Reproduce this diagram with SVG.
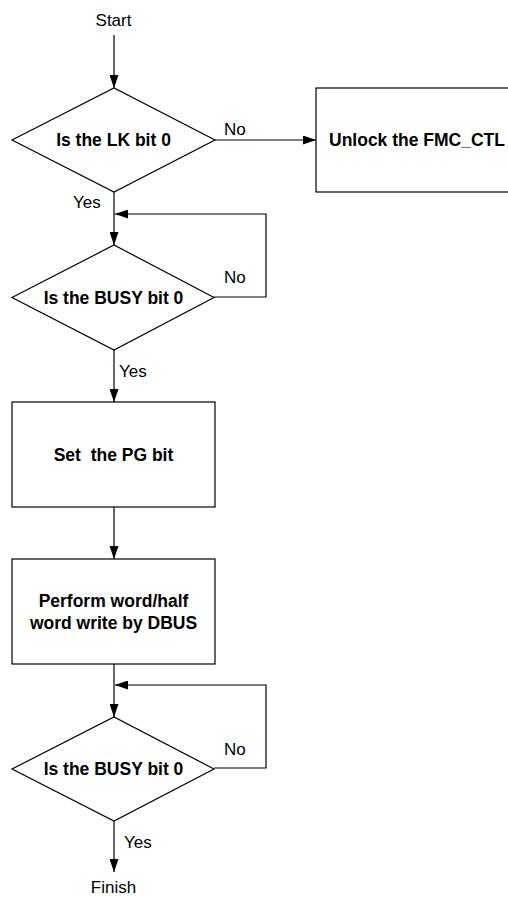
<svg xmlns="http://www.w3.org/2000/svg" width="508" height="897" viewBox="0 0 508 897">
<style>
.shape{fill:#fff;stroke:#000;stroke-width:1.2}
.line{fill:none;stroke:#000;stroke-width:1.2}
.lbl{font-family:"Liberation Sans",Arial,sans-serif;font-size:17.5px;font-weight:bold;fill:#000;text-anchor:middle;white-space:pre}
.txt{font-family:"Liberation Sans",Arial,sans-serif;font-size:17px;fill:#000}
</style>
<defs>
<marker id="arr" markerUnits="userSpaceOnUse" markerWidth="13" markerHeight="9" refX="13" refY="4.5" orient="auto">
<path d="M0,0 L13,4.5 L0,9 z" fill="#000"/>
</marker>
</defs>
<rect width="508" height="897" fill="#fff"/>
<g id="connectors">
<line class="line" x1="114" y1="35" x2="114" y2="88" marker-end="url(#arr)"/>
<line class="line" x1="215" y1="140" x2="316" y2="140" marker-end="url(#arr)"/>
<line class="line" x1="114" y1="192" x2="114" y2="245" marker-end="url(#arr)"/>
<polyline class="line" points="214,297 266,297 266,214 115,214" marker-end="url(#arr)"/>
<line class="line" x1="114" y1="350" x2="114" y2="402" marker-end="url(#arr)"/>
<line class="line" x1="114" y1="507" x2="114" y2="559" marker-end="url(#arr)"/>
<line class="line" x1="114" y1="664" x2="114" y2="717" marker-end="url(#arr)"/>
<polyline class="line" points="214,768 266,768 266,685 115,685" marker-end="url(#arr)"/>
<line class="line" x1="114" y1="821" x2="114" y2="872" marker-end="url(#arr)"/>
<text class="txt" x="224" y="135">No</text>
<text class="txt" x="73" y="208">Yes</text>
<text class="txt" x="224" y="283">No</text>
<text class="txt" x="119" y="377">Yes</text>
<text class="txt" x="224" y="755">No</text>
<text class="txt" x="124" y="848">Yes</text>
</g>
<g id="start"><text class="txt" x="113.5" y="26" text-anchor="middle">Start</text></g>
<g id="d1">
<polygon class="shape" points="12,140 114,88 215,140 114,192"/>
<text class="lbl" x="113.5" y="146">Is the LK bit 0</text>
</g>
<g id="unlock">
<rect class="shape" x="316" y="88" width="220" height="104"/>
<text class="lbl" x="329" y="146" style="text-anchor:start">Unlock the FMC_CTL</text>
</g>
<g id="d2">
<polygon class="shape" points="12,297.5 114,245 214,297.5 114,350"/>
<text class="lbl" x="113.5" y="304">Is the BUSY bit 0</text>
</g>
<g id="setpg">
<rect class="shape" x="12" y="402" width="203" height="105"/>
<text class="lbl" x="113.5" y="461">Set  the PG bit</text>
</g>
<g id="perform">
<rect class="shape" x="12" y="559" width="203" height="105"/>
<text class="lbl" x="113.5" y="607">Perform word/half</text>
<text class="lbl" x="113.5" y="629">word write by DBUS</text>
</g>
<g id="d3">
<polygon class="shape" points="12,769 114,717 214,769 114,821"/>
<text class="lbl" x="113.5" y="775">Is the BUSY bit 0</text>
</g>
<g id="finish"><text class="txt" x="113.5" y="893" text-anchor="middle">Finish</text></g>
</svg>
